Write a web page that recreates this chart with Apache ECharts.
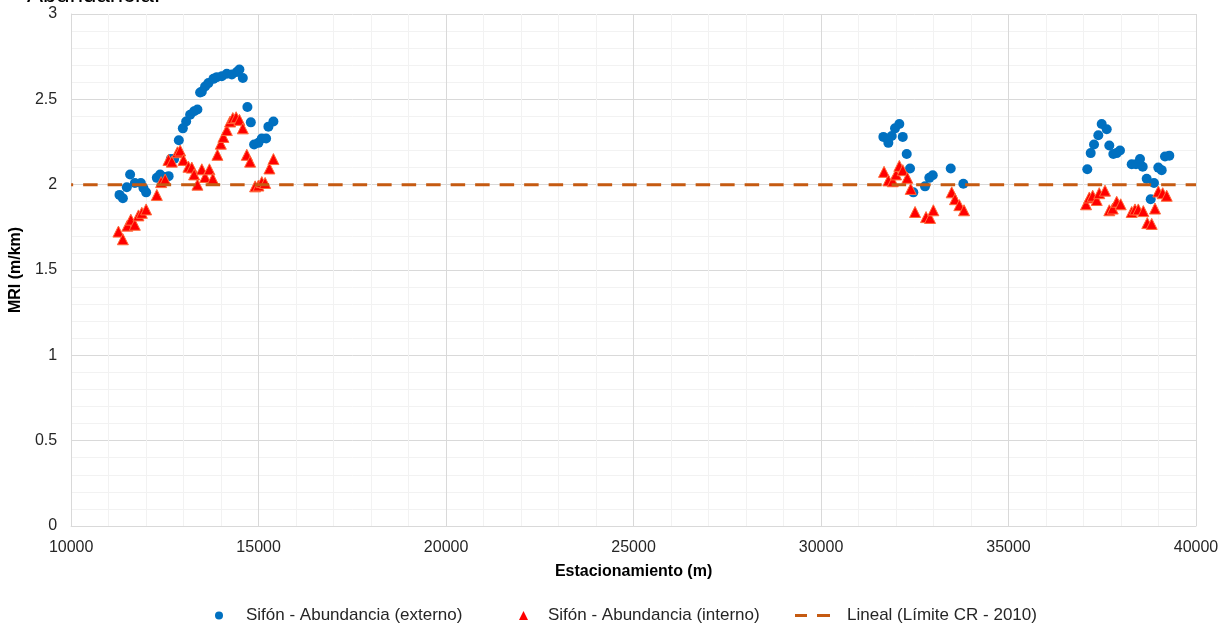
<!DOCTYPE html>
<html lang="es">
<head>
    <meta charset="UTF-8">
    <title>MRI Sifón - Abundancia</title>
    <script src="https://cdn.jsdelivr.net/npm/echarts@6/dist/echarts.min.js"></script>
    <style>
        html, body { margin: 0; padding: 0; background: #fff; }
    </style>
</head>
<body>
<div id="main" style="width: 1230px;height:627px;"></div>
<script type="text/javascript">
    // estacionamiento (m) y MRI (m/km) - externo
    var extX = [11290, 11380, 11485, 11573, 11700, 11859, 11928, 12000, 12285, 12373, 12480, 12600,
        12659, 12747, 12872, 12979, 13067, 13173, 13280, 13368, 13440, 13485, 13573, 13661, 13795,
        13885, 14019, 14152, 14285, 14419, 14488, 14579, 14701, 14792, 14880, 14995, 15085, 15200,
        15261, 15395,
        31662, 31795, 31885, 31973, 32088, 32179, 32285, 32373, 32461, 32773, 32888, 32979, 33459, 33795,
        37101, 37192, 37280, 37395, 37485, 37619, 37688, 37795, 37885, 37973, 38285, 38400, 38507,
        38579, 38685, 38792, 38880, 38995, 39085, 39173, 39288];
    var extY = [1.94, 1.92, 1.985, 2.06, 2.01, 2.01, 1.98, 1.955, 2.04, 2.06, 2.045, 2.05,
        2.15, 2.15, 2.26, 2.33, 2.37, 2.41, 2.43, 2.44, 2.54, 2.545, 2.575, 2.595, 2.62,
        2.63, 2.635, 2.65, 2.645, 2.66, 2.675, 2.625, 2.455, 2.365, 2.235, 2.245, 2.27, 2.27,
        2.34, 2.37,
        2.28, 2.245, 2.285, 2.33, 2.355, 2.28, 2.18, 2.095, 1.955, 1.99, 2.04, 2.055, 2.095, 2.005,
        2.09, 2.185, 2.235, 2.29, 2.355, 2.325, 2.23, 2.18, 2.185, 2.2, 2.12, 2.12, 2.15,
        2.105, 2.035, 1.915, 2.01, 2.1, 2.085, 2.165, 2.17];

    // interno
    var intX = [11261, 11379, 11500, 11592, 11698, 11795, 11885, 12000, 12285, 12400, 12507, 12595,
        12685, 12835, 12907, 12995, 13128, 13218, 13280, 13368, 13485, 13573, 13688, 13779, 13901,
        13992, 14061, 14152, 14240, 14312, 14400, 14488, 14579, 14685, 14773, 14907, 14995, 15085,
        15173, 15288, 15395,
        31680, 31795, 31912, 32000, 32088, 32179, 32301, 32392, 32507, 32800, 32907, 32995, 33485,
        33573, 33688, 33813,
        37067, 37155, 37245, 37352, 37419, 37573, 37688, 37779, 37885, 37992, 38285, 38373, 38461,
        38595, 38701, 38819, 38907, 38995, 39112, 39219];
    var intY = [1.725, 1.68, 1.76, 1.795, 1.765, 1.82, 1.835, 1.855, 1.94, 2.015, 2.03, 2.145,
        2.135, 2.19, 2.2, 2.145, 2.105, 2.1, 2.06, 2.0, 2.09, 2.045, 2.09, 2.035, 2.175,
        2.24, 2.28, 2.32, 2.37, 2.39, 2.395, 2.38, 2.33, 2.175, 2.135, 1.99, 1.995, 2.015,
        2.01, 2.095, 2.15,
        2.075, 2.025, 2.02, 2.06, 2.11, 2.085, 2.04, 1.975, 1.84, 1.81, 1.805, 1.85, 1.955,
        1.915, 1.88, 1.85,
        1.885, 1.925, 1.935, 1.91, 1.95, 1.965, 1.85, 1.86, 1.9, 1.885, 1.84, 1.855, 1.855,
        1.845, 1.775, 1.77, 1.86, 1.96, 1.95, 1.935];

    // Lineal (Límite CR - 2010)
    var limX = [10000, 40000];
    var limY = [2, 2];

    var nombres = ['Sifón - Abundancia (externo)', 'Sifón - Abundancia (interno)', 'Lineal (Límite CR - 2010)'];

    function pares(xs, ys) {
        var out = [];
        for (var i = 0; i < xs.length; i++) {
            out.push([xs[i], ys[i]]);
        }
        return out;
    }

    var myChart = echarts.init(document.getElementById('main'));

    var txt = '#262626';
    var fuente = '"Liberation Sans", Arial, sans-serif';

    // una leyenda por serie para colocar cada entrada como en el original
    function leyenda(nombre, icono, izq, ancho, alto, sangria) {
        return {
            data: [{ name: nombre, icon: icono }],
            left: izq,
            top: 602,
            itemWidth: ancho,
            itemHeight: alto,
            itemStyle: { borderWidth: 0 },
            lineStyle: { width: 0 },
            selectedMode: false,
            textStyle: { fontSize: 17, color: txt, fontFamily: fuente, padding: [0, 0, 0, sangria] }
        };
    }

    var option = {
        animation: false,
        backgroundColor: '#fff',
        textStyle: { fontFamily: fuente },
        title: {
            text: 'Abundancia.',
            left: 22,
            top: -22,
            textStyle: { fontSize: 24, fontWeight: 'normal', color: '#000', fontFamily: fuente }
        },
        grid: { left: 71, right: 34, top: 14, bottom: 101 },
        legend: [
            leyenda(nombres[0], 'circle', 210, 8, 8, 18),
            leyenda(nombres[1], 'triangle', 514, 9, 9, 15),
            leyenda(nombres[2], 'path://M0,0H12V3H0Z M22,0H35V3H22Z', 790, 35, 3, 12)
        ],
        xAxis: {
            type: 'value',
            min: 10000,
            max: 40000,
            interval: 5000,
            name: 'Estacionamiento (m)',
            nameLocation: 'middle',
            nameGap: 38,
            nameTextStyle: { fontSize: 16, fontWeight: 'bold', color: '#000', fontFamily: fuente },
            axisLine: { lineStyle: { color: '#D9D9D9' } },
            axisTick: { show: false },
            axisLabel: { fontSize: 16, color: txt, margin: 14, fontFamily: fuente,
                formatter: function (v) { return String(v); } },
            splitLine: { show: true, lineStyle: { color: '#D9D9D9' } },
            minorTick: { show: false, splitNumber: 5 },
            minorSplitLine: { show: true, lineStyle: { color: '#F2F2F2' } }
        },
        yAxis: {
            type: 'value',
            min: 0,
            max: 3,
            interval: 0.5,
            name: 'MRI (m/km)',
            nameLocation: 'middle',
            nameGap: 40,
            nameTextStyle: { fontSize: 16, fontWeight: 'bold', color: '#000', fontFamily: fuente },
            axisLine: { show: true, lineStyle: { color: '#D9D9D9' } },
            axisTick: { show: false },
            axisLabel: { fontSize: 16, color: txt, margin: 14, fontFamily: fuente },
            splitLine: { show: true, lineStyle: { color: '#D9D9D9' } },
            minorTick: { show: false, splitNumber: 5 },
            minorSplitLine: { show: true, lineStyle: { color: '#F2F2F2' } }
        },
        series: [
            {
                name: nombres[0],
                type: 'scatter',
                symbol: 'circle',
                symbolSize: 10,
                itemStyle: { color: '#0070C0', opacity: 1 },
                data: pares(extX, extY),
                z: 3
            },
            {
                name: nombres[1],
                type: 'scatter',
                symbol: 'triangle',
                symbolSize: 11,
                itemStyle: { color: '#FF0000', borderColor: '#FF6A3A', borderWidth: 1, opacity: 1 },
                data: pares(intX, intY),
                z: 4
            },
            {
                name: nombres[2],
                type: 'line',
                symbol: 'none',
                lineStyle: { color: '#C55A11', width: 3, type: [14.5, 10], dashOffset: 12.5 },
                itemStyle: { color: '#C55A11' },
                data: pares(limX, limY),
                z: 5
            }
        ]
    };

    myChart.setOption(option);
</script>
</body>
</html>
